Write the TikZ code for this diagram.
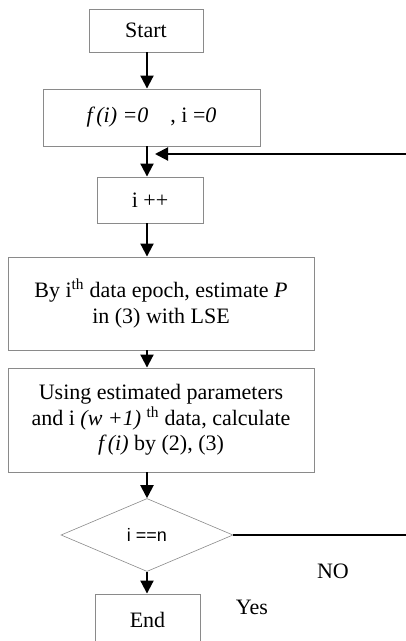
\documentclass[tikz,border=0pt]{standalone}
\usepackage{fontspec}
\setmainfont{Liberation Serif}
\newfontfamily\condfont{Liberation Sans}
\usepackage{tikz}
\usetikzlibrary{
  arrows.meta,
  shapes.geometric
}
\definecolor{flowGray}{HTML}{8A8A8A}

\begin{document}
\begin{tikzpicture}[x=1pt,y=-1pt,
  stepbox/.style={draw=flowGray, line width=0.9pt, inner sep=2pt,
    align=center, font=\fontsize{22}{25.5}\selectfont},
  testbox/.style={diamond, draw=flowGray, line width=0.6pt, inner sep=0pt,
    font=\condfont\fontsize{18}{20}\selectfont},
  flow/.style={line width=2pt, -{Triangle[length=13pt,width=13pt]}},
  plain/.style={line width=2pt},
  tag/.style={font=\fontsize{22}{25}\selectfont}]
  \useasboundingbox (0,0) rectangle (406,641);

  \node[stepbox, minimum width=114, minimum height=43] (start) at (146,30.5) {Start};
  \node[stepbox, minimum width=217, minimum height=57] (init) at (151.5,117.5)
    {\textit{f\,(i) =0}\quad, i =\textit{0}};
  \node[stepbox, minimum width=106, minimum height=46] (inc) at (150,200) {i ++};
  \node[stepbox, minimum width=306, minimum height=93] (lse) at (161,303.5)
    {By i\textsuperscript{th} data epoch, estimate \textit{P}\\in (3) with LSE};
  \node[stepbox, minimum width=306, minimum height=104] (calc) at (161,420)
    {Using estimated parameters\\and i \textit{(w +1)} \textsuperscript{th} data, calculate\\\textit{f\,(i)} by (2), (3)};
  \node[testbox, minimum width=172, minimum height=73] (test) at (147,535) {i ==n};
  \node[stepbox, minimum width=105, minimum height=52] (end) at (147.5,620) {End};

  \coordinate (axis) at (147,0);
  \coordinate (loopin) at (406,154);
  \coordinate (join) at (155,154);

  \draw[flow] (start.south -| axis) -- (init.north -| axis);
  \draw[flow] (init.south -| axis) -- (inc.north -| axis);
  \draw[flow] (inc.south -| axis) -- (lse.north -| axis);
  \draw[flow] (lse.south -| axis) -- (calc.north -| axis);
  \draw[flow] (calc.south -| axis) -- (test.north);
  \draw[flow] (test.south) -- (end.north -| test.south);
  \draw[flow] (loopin) -- (join);
  \draw[plain] (test.east) -- (test.east -| loopin);

  \node[tag] (no) at (333,571) {NO};
  \node[tag] (yes) at (252,607) {Yes};
\end{tikzpicture}
\end{document}
